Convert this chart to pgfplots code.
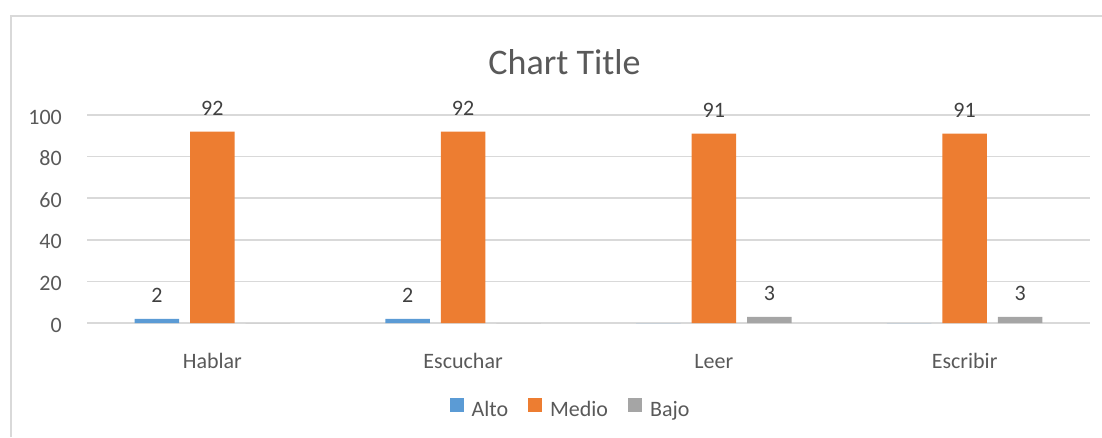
\documentclass[border=0pt]{standalone}
\usepackage{pgfplots}
\pgfplotsset{compat=1.18}
\usepackage{fontspec}
\setmainfont{Carlito}
\definecolor{alto}{HTML}{5B9BD5}
\definecolor{medio}{HTML}{ED7D31}
\definecolor{bajo}{HTML}{A5A5A5}
\definecolor{gridc}{HTML}{D9D9D9}
\definecolor{txt}{HTML}{595959}
\definecolor{lbl}{HTML}{404040}
\pgfplotsset{
  sq/.style={legend image code/.code={\fill[##1, draw=none] (0pt,-2.6pt) rectangle (14pt,11.4pt);}},
}
\begin{document}
\begin{tikzpicture}[x=1pt,y=1pt]
\useasboundingbox (0,0) rectangle (1102,437);
\draw[gridc, line width=1.5pt] (11,0) -- (11,421) -- (1102,421);
\node[txt, font=\fontsize{36}{42}\selectfont, inner sep=0pt, anchor=base] at (564.5,362) {Chart Title};
\begin{axis}[
  at={(87pt,114pt)}, anchor=south west,
  scale only axis, width=1003pt, height=208pt,
  ymin=0, ymax=100, ytick={0,20,...,100},
  xmin=-0.5, xmax=3.5, xtick={0,1,2,3},
  xticklabels={Hablar,Escuchar,Leer,Escribir},
  axis line style={draw=none}, tick style={draw=none},
  ymajorgrids, grid style={gridc, line width=1.5pt},
  /pgf/number format/assume math mode=true,
  ticklabel style={font=\fontsize{22}{26}\selectfont, text=txt, inner sep=0pt},
  yticklabel style={anchor=base east, xshift=-25pt, yshift=-9pt},
  xticklabel style={anchor=base, yshift=-41pt},
  ybar=11pt, bar width=44.5pt,
  nodes near coords={\pgfmathfloatifflags{\pgfplotspointmeta}{0}{}{\pgfmathprintnumber{\pgfplotspointmeta}}},
  every node near coord/.append style={text=lbl, font=\fontsize{22}{26}\selectfont, inner sep=0pt, anchor=base, yshift=16pt},
  legend columns=3,
  legend style={draw=none, fill=none, inner sep=0pt, column sep=0pt,
    at={(0.4811,-0.4087)}, anchor=center,
    font=\fontsize{22}{26}\selectfont, text=txt,
    nodes={inner sep=0pt},
    /tikz/every odd column/.append style={column sep=8pt},
    /tikz/every even column/.append style={column sep=20pt}},
]
\addplot[fill=alto, draw=none, sq] coordinates {(0,2) (1,2) (2,0) (3,0)};
\addplot[fill=medio, draw=none, sq] coordinates {(0,92) (1,92) (2,91) (3,91)};
\addplot[fill=bajo, draw=none, sq] coordinates {(0,0) (1,0) (2,3) (3,3)};
\legend{Alto,Medio,Bajo}
\end{axis}
\end{tikzpicture}
\end{document}
